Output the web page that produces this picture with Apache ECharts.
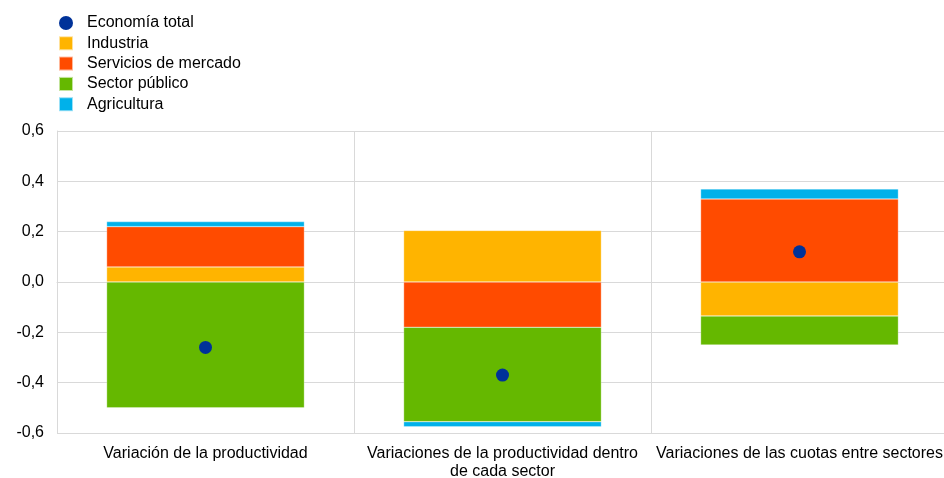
<!DOCTYPE html>
<html>
<head>
<meta charset="utf-8">
<script src="https://cdn.jsdelivr.net/npm/echarts@6/dist/echarts.min.js"></script>
<style>
  html, body { margin: 0; padding: 0; background: #fff; }
  #chart { width: 944px; height: 478px; }
</style>
</head>
<body>
<div id="chart"></div>
<script>
// Categories (x axis)
const categories = [
  'Variación de la productividad',
  'Variaciones de la productividad dentro\nde cada sector',
  'Variaciones de las cuotas entre sectores'
];

// Sector contributions (stacked bars)
const industria = [0.06, 0.205, -0.135];
const serviciosMercado = [0.16, -0.18, 0.33];
const sectorPublico = [-0.50, -0.375, -0.115];
const agricultura = [0.02, -0.02, 0.04];

// Total economy (dots)
const economiaTotal = [-0.26, -0.37, 0.12];

// Y axis ticks
const yTicks = { min: -0.6, max: 0.6, interval: 0.2 };

const FONT = '"Liberation Sans", Arial, sans-serif';
const colors = {
  total: '#003299',
  industria: '#FFB400',
  servicios: '#FF4B00',
  publico: '#65B800',
  agricultura: '#00B1EA'
};

function barSeries(name, data, color) {
  return {
    name: name,
    type: 'bar',
    stack: 'total',
    data: data,
    barWidth: '66.6%',
    itemStyle: { color: color, borderColor: 'rgba(255,255,255,0.6)', borderWidth: 0.5 },
    emphasis: { disabled: true }
  };
}

const chart = echarts.init(document.getElementById('chart'), null, { renderer: 'canvas' });
chart.setOption({
  animation: false,
  textStyle: { fontFamily: FONT },
  legend: {
    orient: 'vertical',
    left: 53,
    top: 10,
    itemWidth: 14,
    itemHeight: 14,
    itemGap: 4.3,
    textStyle: { fontFamily: FONT, fontSize: 16, lineHeight: 14, color: '#000', padding: [0, 0, 0, 9] },
    data: [
      { name: 'Economía total', icon: 'circle' },
      { name: 'Industria', icon: 'rect' },
      { name: 'Servicios de mercado', icon: 'rect' },
      { name: 'Sector público', icon: 'rect' },
      { name: 'Agricultura', icon: 'rect' }
    ]
  },
  grid: { left: 57, top: 131, width: 891, bottom: 45, containLabel: false, outerBoundsMode: 'none' },
  xAxis: {
    type: 'category',
    data: categories,
    axisLine: { show: true, lineStyle: { color: '#d9d9d9' } },
    axisTick: { show: false },
    splitLine: { show: true, lineStyle: { color: '#d9d9d9', width: 1 } },
    axisLabel: {
      fontFamily: FONT, fontSize: 16, color: '#000', margin: 12, lineHeight: 18, interval: 0
    }
  },
  yAxis: {
    type: 'value',
    min: yTicks.min,
    max: yTicks.max,
    interval: yTicks.interval,
    axisLine: { show: true, lineStyle: { color: '#d9d9d9' } },
    axisTick: { show: false },
    splitLine: { show: true, lineStyle: { color: '#d9d9d9', width: 1 } },
    axisLabel: {
      fontFamily: FONT, fontSize: 16, color: '#000', margin: 13,
      formatter: v => v.toFixed(1).replace('.', ',')
    }
  },
  series: [
    barSeries('Industria', industria, colors.industria),
    barSeries('Servicios de mercado', serviciosMercado, colors.servicios),
    barSeries('Sector público', sectorPublico, colors.publico),
    barSeries('Agricultura', agricultura, colors.agricultura),
    {
      name: 'Economía total',
      type: 'scatter',
      data: economiaTotal,
      symbol: 'circle',
      symbolSize: 13,
      itemStyle: { color: colors.total, opacity: 1 },
      z: 5,
      emphasis: { disabled: true }
    }
  ]
});
</script>
</body>
</html>
